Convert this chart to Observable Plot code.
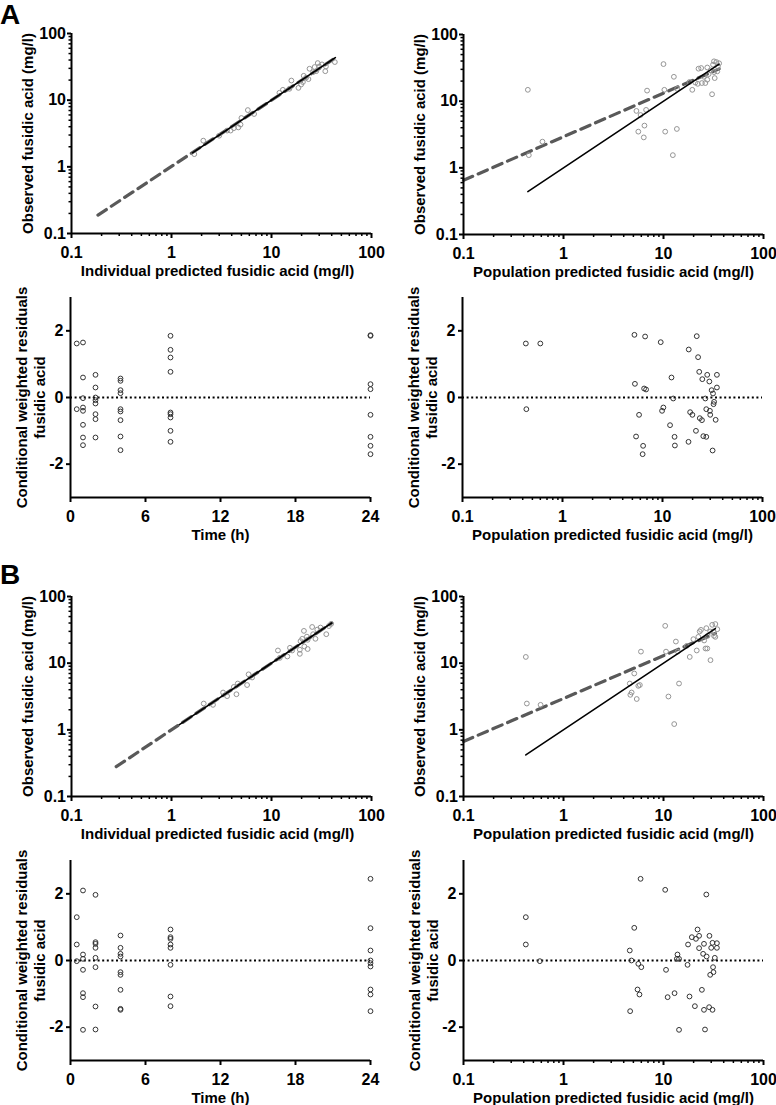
<!DOCTYPE html>
<html><head><meta charset="utf-8">
<script src="https://cdn.jsdelivr.net/npm/d3@7"></script>
<script src="https://cdn.jsdelivr.net/npm/@observablehq/plot@0.6"></script>
<style>
body{margin:0;background:#fff;}
#root{position:relative;width:776px;height:1105px;overflow:hidden;background:#fff;font-family:"Liberation Sans",Arial,Helvetica,sans-serif;}
.panel{position:absolute;}
.tag{position:absolute;left:0;font-weight:bold;font-size:28px;line-height:1;color:#000;}
</style></head><body><div id="root"></div>
<script>
// ---------- tick values / labels ----------
const logMajor = [0.1, 1, 10, 100];
const logMinor = [0.2,0.3,0.4,0.5,0.6,0.7,0.8,0.9,2,3,4,5,6,7,8,9,20,30,40,50,60,70,80,90];
const timeTicks = [0, 6, 12, 18, 24];
const cwresTicks = [-2, 0, 2];
const zeroRef = [0];

// ---------- axis titles ----------
const titleObs = "Observed fusidic acid (mg/l)";
const titleIpred = "Individual predicted fusidic acid (mg/l)";
const titlePred = "Population predicted fusidic acid (mg/l)";
const titleCwres = "Conditional weighted residuals\nfusidic acid";
const titleTime = "Time (h)";

// ---------- A: observed vs individual predicted ----------
const A_ipred = [1.69,2.08,3.0,3.6,3.9,4.2,4.66,4.9,5.0,5.8,6.7,12.0,13.0,15.1,15.8,18.6,19.8,20.6,21,22.2,23.4,24,26,27,28,29,30,32,34.5,35,43];
const A_ipred_dv = [1.55,2.47,2.93,3.5,3.5,3.8,3.9,4.3,5.4,7.1,6.2,12.9,14.3,14.8,19.7,15.3,17.2,18.7,23.2,21.7,20.7,29.6,26.3,31.4,27.2,36,32,34.4,27.2,32,37.3];
const A_ipred_fit_x = [0.184, 43];
const A_ipred_fit_y = [0.189, 42.5];
const A_ipred_id = [1.62, 43.5];

// ---------- A: observed vs population predicted ----------
const A_pred = [0.44,0.45,0.616,5.36,5.6,6.45,6.35,6.85,6.7,5.9,10,10.2,10.4,12.7,12.4,13.6,13.7,18.2,19.4,20.8,22,22.4,23.8,24.2,25.4,26.2,27.4,27.4,28.3,29.6,30.6,31.3,32,32.5,32,33.8,35,34.5,36];
const A_pred_dv = [14.8,1.55,2.47,7.14,3.49,4.3,2.86,14.4,7.4,6.2,36,14.8,3.49,23.2,1.55,3.83,15.3,19.4,14.8,19.0,18.2,30.7,31.4,18.7,23.2,18.7,21,32,25.5,29,12.7,35.3,27.3,22.2,39.6,38.6,33,28,37];
const A_pred_fit_x = [0.1, 36];
const A_pred_fit_y = [0.65, 30.5];
const A_pred_id = [0.44, 36];

// ---------- A: CWRES vs time ----------
const A_time = [0.5,0.5,1,1,1,1,1,1,1,1,2,2,2,2,2,2,2,2,4,4,4,4,4,4,4,4,4,8,8,8,8,8,8,8,8,8,24,24,24,24,24,24,24,24];
const A_time_cwres = [1.62,-0.35,1.65,0.6,-0.02,-0.3,-0.4,-0.82,-1.2,-1.43,0.68,0.3,0.0,-0.08,-0.18,-0.5,-0.65,-1.2,0.57,0.5,0.22,0.13,-0.35,-0.42,-0.68,-1.17,-1.58,1.85,1.43,1.2,0.77,-0.45,-0.5,-0.6,-1.0,-1.33,1.87,1.85,0.4,0.25,-0.52,-1.18,-1.45,-1.7];

// ---------- A: CWRES vs population predicted ----------
const A_cw_pred = [0.43,0.435,0.60,5.24,5.3,5.44,5.83,6.33,6.4,6.55,6.7,6.85,9.6,9.9,10.2,11.9,12.3,12.8,13.2,13.3,18.2,18.3,18.9,19.9,21.6,22.0,22.7,23.3,23.6,24.8,25,25.6,26.8,27.4,27.4,28,29.4,29.8,30,31,31.7,32,32.4,32.8,34,35,35];
const A_cw_pred_cwres = [1.62,-0.35,1.62,1.88,0.41,-1.17,-0.52,-1.7,-1.45,0.27,1.83,0.24,1.66,-0.4,-0.3,-0.83,0.6,-0.03,-1.18,-1.44,-1.33,1.44,-0.44,-0.52,-1.0,1.84,1.21,0.77,-0.62,-0.68,0.55,-1.16,-0.03,-1.18,-0.35,0.68,0.48,-0.4,-0.52,0.22,-1.59,0.12,-0.2,-0.13,-0.67,0.3,0.68];

// ---------- B: observed vs individual predicted ----------
const B_ipred = [2.1,2.6,3.28,3.6,4.2,4.46,4.6,5.7,5.9,6.4,11.6,12.1,14.4,15.3,16.1,19.2,19.2,19.5,20.3,21.1,21.3,22.6,23,23,25.5,26.1,27.5,28.7,30.9,35.3,37.5,39.5];
const B_ipred_dv = [2.48,2.37,3.63,3.2,4.4,3.42,4.95,4.7,6.8,6.1,15.5,12.0,12.6,17,15.5,13.8,15.9,21.4,23.2,30.5,17.8,25,22.4,16.3,34.9,27.2,23.2,31.9,34.2,27.2,36,38.9];
const B_ipred_fit_x = [0.28, 40];
const B_ipred_fit_y = [0.28, 40];
const B_ipred_id = [1.2, 40];

// ---------- B: observed vs population predicted ----------
const B_pred = [0.42,0.43,0.59,4.6,4.66,4.8,5.1,5.4,5.6,5.8,5.95,10.4,10.6,11.2,12.8,13.3,13.9,14.3,17.1,18.3,19.9,21.5,22.3,23.0,23.7,25.5,26.3,27.4,26.8,27.6,29.3,29.5,30.7,31.5,32,33,33,34.5];
const B_pred_dv = [12.4,2.48,2.37,4.95,3.35,3.63,7.0,2.9,4.57,4.7,14.9,36.3,14.9,3.16,1.22,21.1,14.9,4.95,18.2,12.4,22.9,15.5,24.8,29.9,31.6,21.9,16.6,16.6,33.5,25.7,29.9,11.1,37.6,29.9,25.7,38.6,24.8,32.3];
const B_pred_fit_x = [0.1, 33];
const B_pred_fit_y = [0.67, 28];
const B_pred_id = [0.42, 33];

// ---------- B: CWRES vs time ----------
const B_time = [0.5,0.5,0.5,1,1,1,1,1,1,1,2,2,2,2,2,2,2,2,4,4,4,4,4,4,4,4,4,8,8,8,8,8,8,8,8,24,24,24,24,24,24,24,24,24];
const B_time_cwres = [1.3,0.48,-0.02,2.1,0.18,0.05,-0.28,-0.98,-1.1,-2.08,1.97,0.55,0.5,0.38,0.08,-0.2,-1.38,-2.07,0.75,0.38,0.2,0.12,-0.35,-0.43,-0.88,-1.45,-1.48,0.93,0.7,0.65,0.48,0.38,-0.13,-1.08,-1.37,2.45,0.97,0.3,0.0,-0.08,-0.18,-0.87,-1.02,-1.52];

// ---------- B: CWRES vs population predicted ----------
const B_cw_pred = [0.42,0.42,0.58,4.6,4.64,4.78,5.1,5.5,5.6,5.75,5.9,6.0,10.4,10.6,11,12.9,13.6,13.8,14.3,14.3,17.4,17.6,18.2,19.2,20.6,21.1,21.9,22.7,22.7,24.2,24.9,25.4,25.4,26,26.8,27,28.6,28.8,29.3,30,30.9,30.9,31.3,31.6,32.6,34.2,34.2];
const B_cw_pred_cwres = [1.3,0.48,-0.02,0.3,-1.52,0.0,0.98,-0.87,-0.1,-1.02,2.45,-0.2,2.12,-0.28,-1.1,-0.98,0.05,0.18,0.05,-2.08,-0.13,0.48,-1.08,0.7,-1.37,0.65,0.93,0.37,0.74,-0.88,0.2,-1.48,0.5,-2.07,1.98,0.12,-1.4,0.74,-0.43,0.38,0.53,-1.48,-0.2,-0.35,0.08,0.52,0.38];

// ---------- helpers ----------
const zipXY = (xs, ys) => xs.map((x, i) => ({x, y: ys[i]}));
const FONT = '"Liberation Sans", Arial, Helvetica, sans-serif';
const W = 300, H = 200, ML = 75, MR = 14, MT = 14, MB = 52;

function makePanel(cfg) {
  const xLog = cfg.xType === "log";
  const yLog = cfg.yType === "log";
  const marks = [];
  if (cfg.zero) marks.push(Plot.ruleY(zeroRef, {stroke: "#000", strokeWidth: 2, strokeDasharray: "2,2.6"}));
  if (cfg.fit) marks.push(Plot.line(cfg.fit, {x: "x", y: "y", stroke: "#595959", strokeWidth: 3.2, strokeDasharray: "10,6"}));
  marks.push(Plot.dot(cfg.points, {x: "x", y: "y", r: 2.4, stroke: cfg.dotColor, strokeWidth: 1, fill: "none"}));
  if (cfg.id) marks.push(Plot.line(cfg.id, {x: "x", y: "y", stroke: "#000", strokeWidth: 1.6}));
  // axis lines
  marks.push(Plot.ruleX([cfg.xDomain[0]], {stroke: "#000", strokeWidth: 2}));
  marks.push(Plot.ruleY([cfg.yDomain[0]], {stroke: "#000", strokeWidth: 2}));
  // x axis
  marks.push(Plot.axisX(cfg.xTicks, {anchor: "bottom", tickSize: 5, tickPadding: 8, tickFormat: d => String(d), fontSize: 16, fontWeight: "bold", strokeWidth: 2, label: null}));
  if (xLog) marks.push(Plot.axisX(logMinor, {anchor: "bottom", tickSize: 3, strokeWidth: 1.5, fill: "none", label: null}));
  // y axis
  marks.push(Plot.axisY(cfg.yTicks, {anchor: "left", tickSize: 4, tickPadding: yLog ? 1.5 : 3, tickFormat: d => String(d), fontSize: 16, fontWeight: "bold", strokeWidth: 2, label: null}));
  if (yLog) marks.push(Plot.axisY(logMinor, {anchor: "left", tickSize: 2.5, strokeWidth: 1.5, fill: "none", label: null}));
  // titles
  marks.push(Plot.text([cfg.xTitle], {frameAnchor: "bottom", textAnchor: "middle", lineAnchor: "bottom", dy: 42, dx: cfg.xTitleDx || 0, fontSize: 15, fontWeight: "bold", fill: "#000"}));
  const twoLine = cfg.yTitle.includes("\n");
  marks.push(Plot.text([cfg.yTitle], {frameAnchor: "left", textAnchor: "middle", rotate: -90, lineAnchor: "bottom", lineHeight: 1.2, dx: twoLine ? -26 : -39, fontSize: 15, fontWeight: "bold", fill: "#000"}));

  const svg = Plot.plot({
    width: W + ML + MR, height: H + MT + MB,
    marginLeft: ML, marginRight: MR, marginTop: MT, marginBottom: MB,
    x: {type: cfg.xType, domain: cfg.xDomain, axis: null, nice: false},
    y: {type: cfg.yType, domain: cfg.yDomain, axis: null, nice: false},
    style: {fontFamily: FONT, fontWeight: "bold", fontSize: "16px", color: "#000", background: "transparent", overflow: "visible"},
    marks
  });
  svg.classList.add("panel");
  svg.style.left = (cfg.left - ML) + "px";
  svg.style.top = (cfg.top - MT) + "px";
  svg.style.position = "absolute";
  return svg;
}

const root = document.getElementById("root");
const logDom = [0.1, 100];
const resDom = [-3, 3];
const panels = [
  {left: 71, top: 33, xType: "log", yType: "log", xDomain: logDom, yDomain: logDom, xTicks: logMajor, yTicks: logMajor,
   points: zipXY(A_ipred, A_ipred_dv), dotColor: "#959595", fit: zipXY(A_ipred_fit_x, A_ipred_fit_y), id: zipXY(A_ipred_id, A_ipred_id),
   xTitle: titleIpred, yTitle: titleObs, xTitleDx: -4},
  {left: 463, top: 34, xType: "log", yType: "log", xDomain: logDom, yDomain: logDom, xTicks: logMajor, yTicks: logMajor,
   points: zipXY(A_pred, A_pred_dv), dotColor: "#959595", fit: zipXY(A_pred_fit_x, A_pred_fit_y), id: zipXY(A_pred_id, A_pred_id),
   xTitle: titlePred, yTitle: titleObs},
  {left: 70, top: 297, xType: "linear", yType: "linear", xDomain: [0, 24], yDomain: resDom, xTicks: timeTicks, yTicks: cwresTicks,
   points: zipXY(A_time, A_time_cwres), dotColor: "#333", zero: true, xTitle: titleTime, yTitle: titleCwres},
  {left: 462, top: 297, xType: "log", yType: "linear", xDomain: logDom, yDomain: resDom, xTicks: logMajor, yTicks: cwresTicks,
   points: zipXY(A_cw_pred, A_cw_pred_cwres), dotColor: "#333", zero: true, xTitle: titlePred, yTitle: titleCwres},
  {left: 71, top: 596, xType: "log", yType: "log", xDomain: logDom, yDomain: logDom, xTicks: logMajor, yTicks: logMajor,
   points: zipXY(B_ipred, B_ipred_dv), dotColor: "#959595", fit: zipXY(B_ipred_fit_x, B_ipred_fit_y), id: zipXY(B_ipred_id, B_ipred_id),
   xTitle: titleIpred, yTitle: titleObs, xTitleDx: -4},
  {left: 463, top: 596, xType: "log", yType: "log", xDomain: logDom, yDomain: logDom, xTicks: logMajor, yTicks: logMajor,
   points: zipXY(B_pred, B_pred_dv), dotColor: "#959595", fit: zipXY(B_pred_fit_x, B_pred_fit_y), id: zipXY(B_pred_id, B_pred_id),
   xTitle: titlePred, yTitle: titleObs},
  {left: 70, top: 860, xType: "linear", yType: "linear", xDomain: [0, 24], yDomain: resDom, xTicks: timeTicks, yTicks: cwresTicks,
   points: zipXY(B_time, B_time_cwres), dotColor: "#333", zero: true, xTitle: titleTime, yTitle: titleCwres},
  {left: 463, top: 860, xType: "log", yType: "linear", xDomain: logDom, yDomain: resDom, xTicks: logMajor, yTicks: cwresTicks,
   points: zipXY(B_cw_pred, B_cw_pred_cwres), dotColor: "#333", zero: true, xTitle: titlePred, yTitle: titleCwres}
];
for (const p of panels) root.appendChild(makePanel(p));

const tagA = document.createElement("div");
tagA.className = "tag"; tagA.textContent = "A"; tagA.style.top = "1px";
const tagB = document.createElement("div");
tagB.className = "tag"; tagB.textContent = "B"; tagB.style.top = "561px";
root.appendChild(tagA); root.appendChild(tagB);
</script>
</body></html>
